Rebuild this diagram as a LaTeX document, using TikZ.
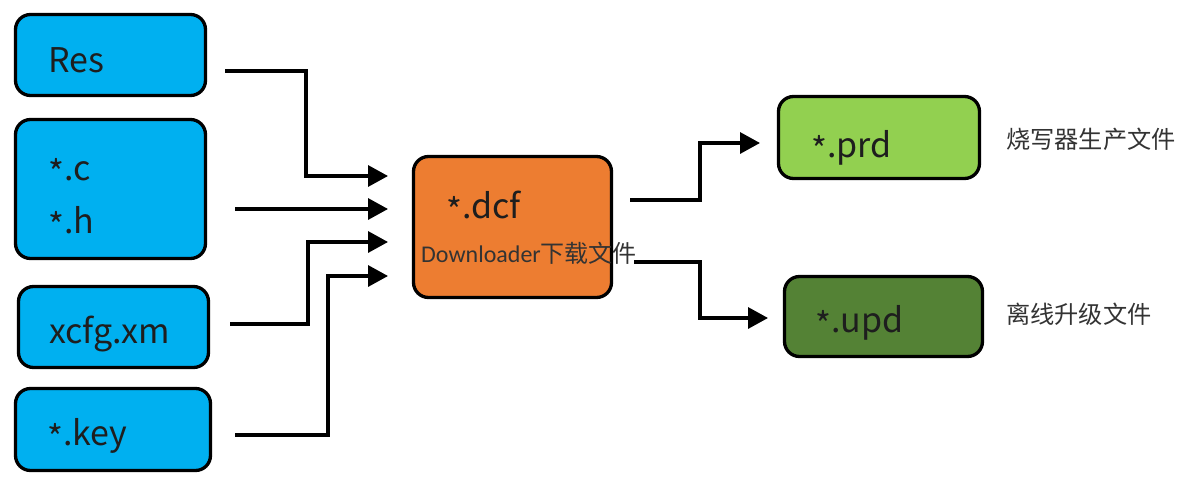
\documentclass[tikz,border=0pt]{standalone}
\usepackage{fontspec}
\setmainfont{Noto Sans CJK SC}
\newfontfamily\calfont{Carlito}
\newfontfamily\cjkfont{Noto Sans CJK SC}
\usetikzlibrary{arrows.meta}
\newcommand\lowstar{\raisebox{-0.17em}{*}}
\definecolor{cblue}{HTML}{00B0F0}
\definecolor{corange}{HTML}{ED7D31}
\definecolor{clgreen}{HTML}{92D050}
\definecolor{cdgreen}{HTML}{548235}
\definecolor{ctext}{HTML}{1E1E1E}
\definecolor{clabel}{HTML}{333333}
\tikzset{
  fbox/.style={draw=black, line width=3.3pt, rounded corners=15pt, inner sep=0pt},
  bluebox/.style={fbox, fill=cblue},
  btext/.style={anchor=base west, inner sep=0pt, text=ctext, font=\fontsize{34}{40}\selectfont},
  lab/.style={anchor=west, inner sep=0pt, text=clabel, font=\cjkfont\fontsize{24.2}{28}\selectfont},
  arr/.style={line width=3.3pt, -{Triangle[length=20pt,width=21pt]}},
}
\begin{document}
\begin{tikzpicture}[x=1pt,y=-1pt]
\useasboundingbox (0,0) rectangle (1193,490);
% left boxes
\node[bluebox, minimum width=190pt, minimum height=81pt] (res) at (110.5,55) {};
\node[btext] (rest) at (48,72) {Res};
\node[bluebox, minimum width=190pt, minimum height=139pt] (ch) at (110.5,189) {};
\node[btext] (ct) at (48,180) {\lowstar.c};
\node[btext] (ht) at (48,233) {\lowstar.h};
\node[bluebox, minimum width=190pt, minimum height=81pt] (xcfg) at (113.5,327) {};
\node[btext] (xt) at (49,343) {xcfg.xm};
\node[bluebox, minimum width=195pt, minimum height=82pt] (key) at (113,429.5) {};
\node[btext] (kt) at (47,445) {\lowstar.key};
% centre
\node[fbox, fill=corange, minimum width=198pt, minimum height=141pt] (dcf) at (512.5,227) {};
\node[btext] (dt) at (446,218) {\lowstar.dcf};
\node[anchor=base west, inner sep=0pt, text=clabel, font=\fontsize{24}{28}\selectfont] (dl) at (421,262) {{\calfont Downloader}{\cjkfont 下载文件}};
% right
\node[fbox, fill=clgreen, minimum width=201pt, minimum height=82pt] (prd) at (879,137.5) {};
\node[btext] (pt) at (811,157) {\lowstar.prd};
\node[fbox, fill=cdgreen, minimum width=198pt, minimum height=80pt] (upd) at (883.5,316.5) {};
\node[btext] (ut) at (815,332) {\lowstar.upd};
\node[lab] (l1) at (1006,139) {烧写器生产文件};
\node[lab] (l2) at (1006,314) {离线升级文件};
% connector ends
\coordinate (r1) at (225,71);
\coordinate (d1) at (388,176);
\coordinate (c1) at (235,209);
\coordinate (d2) at (388,209);
\coordinate (x1) at (230,324);
\coordinate (d3) at (388,242);
\coordinate (k1) at (235,435);
\coordinate (d4) at (388,276);
\coordinate (o1) at (630,200);
\coordinate (p1) at (760,143);
\coordinate (o2) at (634,262);
\coordinate (u1) at (768,318);
\draw[arr] (r1) -- ++(81,0) |- (d1);
\draw[arr] (c1) -- (d2);
\draw[arr] (x1) -- ++(78,0) |- (d3);
\draw[arr] (k1) -- ++(93,0) |- (d4);
\draw[arr] (o1) -- ++(70,0) |- (p1);
\draw[arr] (o2) -- ++(66,0) |- (u1);
\end{tikzpicture}
\end{document}
